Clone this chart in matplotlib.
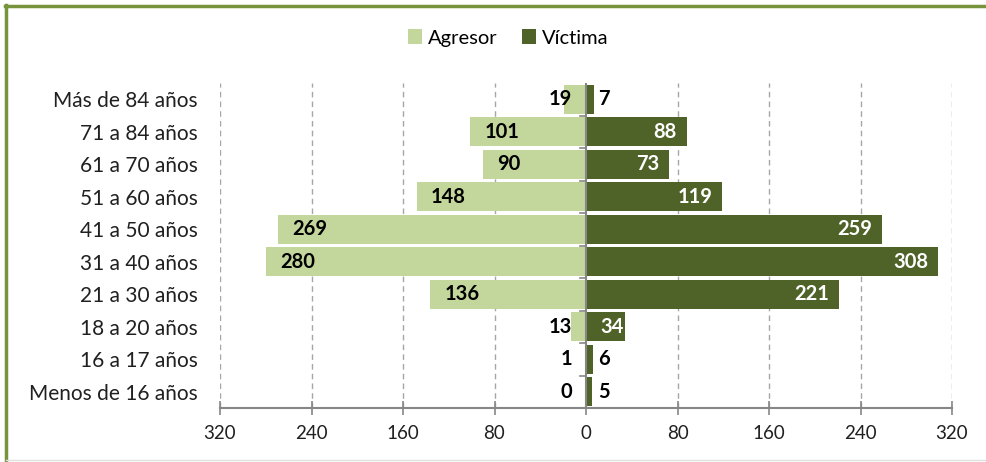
import matplotlib
matplotlib.use("Agg")
import matplotlib.pyplot as plt
from matplotlib.lines import Line2D
import numpy as np

categories = ["Menos de 16 años", "16 a 17 años", "18 a 20 años", "21 a 30 años",
              "31 a 40 años", "41 a 50 años", "51 a 60 años", "61 a 70 años",
              "71 a 84 años", "Más de 84 años"]
agresor = [0, 1, 13, 136, 280, 269, 148, 90, 101, 19]
victima = [5, 6, 34, 221, 308, 259, 119, 73, 88, 7]
xticks = [-320, -240, -160, -80, 0, 80, 160, 240, 320]
xticklabels = ["320", "240", "160", "80", "0", "80", "160", "240", "320"]

c_light = "#C3D69B"
c_dark = "#4F6228"
c_frame = "#77933C"
c_grid = "#A6A6A6"
c_axis = "#868686"

plt.rcParams['font.family'] = ['Lato', 'DejaVu Sans']

fig = plt.figure(figsize=(9.86, 4.62), dpi=100)
ax = fig.add_axes([220/986, 1-408/462, (952-220)/986, (408-83)/462])

y = np.arange(len(categories))
ax.barh(y, [-v for v in agresor], height=0.9, color=c_light, label="Agresor", zorder=3)
ax.barh(y, victima, height=0.9, color=c_dark, label="Víctima", zorder=3)

ax.set_xlim(-320, 320)
ax.set_ylim(-0.5, len(categories) - 0.5)
ax.set_xticks(xticks)
ax.set_xticklabels(xticklabels, fontsize=13.5, color="#202020")
ax.set_yticks(y)
ax.set_yticklabels(categories, fontsize=15, color="#202020")
ax.tick_params(axis='y', length=0, pad=16)
ax.tick_params(axis='x', direction='inout', length=10, width=1.2, color=c_axis, pad=7)

for x in xticks:
    if x != 0:
        ax.axvline(x, color=c_grid, linestyle=(0, (4, 3)), linewidth=1, zorder=1)

for s in ['top', 'right', 'left']:
    ax.spines[s].set_visible(False)
ax.spines['bottom'].set_color(c_axis)
ax.spines['bottom'].set_linewidth(1.5)
ax.spines['bottom'].set_zorder(4)

# vertical axis at zero with small ticks at category boundaries
ax.axvline(0, color=c_axis, linewidth=1.5, zorder=4)
for b in np.arange(-0.5, len(categories) - 0.5, 1.0):
    ax.plot([-5, 0], [b, b], color=c_axis, linewidth=1.2, zorder=4, clip_on=False)

u = 320 / 366.0  # data units per pixel
fs = 14.5
for i, v in enumerate(agresor):
    if v > 40:
        ax.text(-v + 14 * u, i, str(v), ha='left', va='center', fontsize=fs,
                fontweight='bold', color='black', zorder=5)
    else:
        ax.text(-14 * u, i, str(v), ha='right', va='center', fontsize=fs,
                fontweight='bold', color='black', zorder=5)
for i, v in enumerate(victima):
    if v > 50:
        ax.text(v - 10 * u, i, str(v), ha='right', va='center', fontsize=fs,
                fontweight='bold', color='white', zorder=5)
    elif v > 20:
        ax.text(14 * u, i, str(v), ha='left', va='center', fontsize=fs,
                fontweight='bold', color='white', zorder=5)
    else:
        ax.text(12 * u, i, str(v), ha='left', va='center', fontsize=fs,
                fontweight='bold', color='black', zorder=5)

fig.legend(loc='center', bbox_to_anchor=(508/986, 1-38/462), ncol=2, frameon=False,
           fontsize=14.5, handlelength=0.7, handleheight=0.7, handletextpad=0.3,
           columnspacing=1.2)

# outer frame
fig.add_artist(Line2D([6/986, 6/986], [0, 1-5/462], color=c_frame, linewidth=2.5,
                      transform=fig.transFigure))
fig.add_artist(Line2D([5/986, 1], [1-6/462, 1-6/462], color=c_frame, linewidth=2.5,
                      transform=fig.transFigure))
fig.add_artist(Line2D([6/986, 1], [2/462, 2/462], color="#E0E0E0", linewidth=1,
                      transform=fig.transFigure))

fig.savefig("out.png", dpi=100)
